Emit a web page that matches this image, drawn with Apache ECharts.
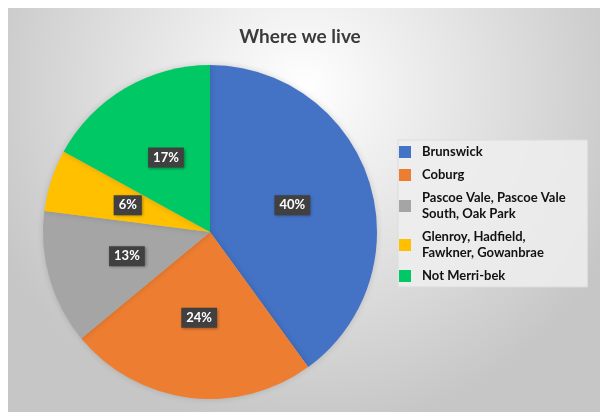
<!DOCTYPE html>
<html>
<head>
<meta charset="utf-8">
<script src="https://cdn.jsdelivr.net/npm/echarts@6/dist/echarts.min.js"></script>
<style>
  html, body { margin: 0; padding: 0; background: #fff; }
  #chart { position: absolute; left: 8px; top: 8px; width: 592px; height: 404px; }
</style>
</head>
<body>
<div id="chart"></div>
<script>
const regions = [
  'Brunswick',
  'Coburg',
  'Pascoe Vale, Pascoe Vale\nSouth, Oak Park',
  'Glenroy, Hadfield,\nFawkner, Gowanbrae',
  'Not Merri-bek'
]
const shares = [40, 24, 13, 6, 17]
const colors = ['#4472C4', '#ED7D31', '#A5A5A5', '#FFC000', '#00C865']

const font = 'Lato, "Open Sans", sans-serif'
const chart = echarts.init(document.getElementById('chart'))

chart.setOption({
  backgroundColor: {
    type: 'radial', x: 0.5, y: 0.2, r: 0.85,
    colorStops: [
      { offset: 0, color: '#ffffff' },
      { offset: 1, color: '#c6c6c6' }
    ]
  },
  animation: false,
  title: {
    text: 'Where we live',
    left: 287,
    textAlign: 'center',
    top: 14,
    textStyle: { fontFamily: font, fontSize: 19, fontWeight: 'bold', color: '#3a3a3a' }
  },
  legend: {
    orient: 'vertical',
    left: 390,
    top: 132,
    padding: [4, 22, 3, 1],
    itemWidth: 12,
    itemHeight: 12,
    itemGap: 7,
    icon: 'rect',
    backgroundColor: 'rgba(238,238,238,0.85)',
    borderColor: '#dcdcdc',
    borderWidth: 1,
    textStyle: {
      fontFamily: font, fontSize: 13, fontWeight: 'bold', color: '#111',
      lineHeight: 16, padding: [0, 0, 0, 6]
    },
    data: regions
  },
  series: [{
    type: 'pie',
    center: [202, 224],
    radius: 167,
    startAngle: 90,
    clockwise: true,
    silent: true,
    itemStyle: { shadowBlur: 6, shadowColor: 'rgba(0,0,0,0.15)' },
    label: {
      position: 'inside',
      formatter: '{c}%',
      fontFamily: font,
      fontSize: 13,
      fontWeight: 'bold',
      color: '#fff',
      backgroundColor: '#404040',
      padding: [4, 5, 3, 5],
      shadowBlur: 3,
      shadowOffsetX: 1,
      shadowOffsetY: 1,
      shadowColor: 'rgba(0,0,0,0.4)'
    },
    labelLine: { show: false },
    data: regions.map((name, i) => ({
      name,
      value: shares[i],
      itemStyle: { color: colors[i] }
    }))
  }]
})
</script>
</body>
</html>
